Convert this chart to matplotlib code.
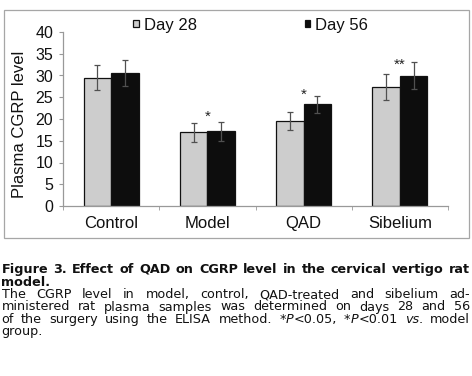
import matplotlib
matplotlib.use("Agg")
import matplotlib.pyplot as plt
import numpy as np
from matplotlib.patches import Rectangle

categories = ["Control", "Model", "QAD", "Sibelium"]
series_names = ["Day 28", "Day 56"]
day28 = [29.5, 16.9, 19.5, 27.3]
day56 = [30.6, 17.2, 23.4, 29.9]
err28 = [2.8, 2.1, 2.0, 3.0]
err56 = [2.9, 2.2, 2.0, 3.1]
star_text = ["", "*", "*", "**"]
star_y = [0, 19.6, 24.7, 31.6]
y_ticks = [0, 5, 10, 15, 20, 25, 30, 35, 40]
ylabel = "Plasma CGRP level"

W, H = 472, 376
fig = plt.figure(figsize=(W / 100, H / 100), dpi=100)
ax = fig.add_axes([63 / W, 1 - 206 / H, (448 - 63) / W, (206 - 32) / H])

FONT = "Liberation Sans"
fs = 12
x = np.arange(len(categories))
bw = 0.287
ekw = dict(ecolor="#505050", elinewidth=0.9, capsize=2.5, capthick=0.9)
ax.bar(x - bw / 2, day28, bw, color="#CDCDCD", edgecolor="#111111", linewidth=0.9,
       yerr=err28, error_kw=ekw, label=series_names[0])
ax.bar(x + bw / 2, day56, bw, color="#0D0D0D", edgecolor="#111111", linewidth=0.9,
       yerr=err56, error_kw=ekw, label=series_names[1])
for i, (s, yv) in enumerate(zip(star_text, star_y)):
    if s:
        ax.text(x[i], yv, s, ha="center", va="baseline", fontsize=11, family=FONT, color="#222222")

ax.set_xlim(-0.5, len(categories) - 0.5)
ax.set_ylim(0, 40)
ax.set_yticks(y_ticks)
ax.set_yticklabels([str(t) for t in y_ticks], fontsize=11.5, family=FONT, color="#111111")
ax.set_xticks(x)
ax.set_xticklabels(categories, fontsize=fs, family=FONT, color="#111111")
ax.set_xticks(np.arange(-0.5, len(categories)), minor=True)
ax.tick_params(axis="x", which="major", length=0, pad=7)
ax.tick_params(axis="x", which="minor", length=3, color="#999999")
ax.tick_params(axis="y", length=3, color="#999999", pad=4)
for s in ["top", "right"]:
    ax.spines[s].set_visible(False)
for s in ["left", "bottom"]:
    ax.spines[s].set_color("#999999")
    ax.spines[s].set_linewidth(0.9)
ax.set_ylabel(ylabel, fontsize=fs, family=FONT, color="#111111")
ax.yaxis.set_label_coords(-(63 - 27) / (448 - 63), 0.47)

leg = ax.legend(ncol=2, loc="center left", bbox_to_anchor=(70 / 385, 1.04), frameon=False,
                prop={"family": FONT, "size": fs}, handlelength=0.33, handleheight=0.33,
                handletextpad=0.3, columnspacing=6.5, borderaxespad=0, borderpad=0)
for t in leg.get_texts():
    t.set_color("#111111")

# chart frame
fig.patches.append(Rectangle((4 / W, 1 - 238 / H), (469 - 4) / W, (238 - 10) / H,
                             transform=fig.transFigure, fill=False, edgecolor="#A6A6A6", linewidth=0.9))

# caption (justified)
renderer = fig.canvas.get_renderer()
CF = "DejaVu Sans"
cfs = 9.2
left, right = 1.5, 470.0

def measure(text, **kw):
    t = fig.text(0, 0, text, fontsize=cfs, family=CF, **kw)
    w = t.get_window_extent(renderer).width
    t.remove()
    return w

def draw_line(words, ybase, justify):
    widths = []
    for w in words:
        widths.append(sum(measure(txt, **kw) for txt, kw in w))
    total = sum(widths)
    kw0 = words[0][0][1]
    space = measure("a a", **kw0) - measure("aa", **kw0)
    if justify and len(words) > 1:
        gap = max((right - left - total) / (len(words) - 1), 1.5)
    else:
        gap = space
    xp = left
    for w, ww in zip(words, widths):
        xx = xp
        for txt, kw in w:
            fig.text(xx / W, 1 - ybase / H, txt, fontsize=cfs, family=CF, va="baseline",
                     ha="left", color="#111111", **kw)
            xx += measure(txt, **kw)
        xp += ww + gap

B = {"weight": "bold"}
N = {}
I = {"style": "italic"}

def simple(s, kw):
    return [[(w, kw)] for w in s.split(" ")]

base0, step = 273.0, 12.5
cap_lines = [
    (simple("Figure 3. Effect of QAD on CGRP level in the cervical vertigo rat", B), True),
    (simple("model.", B), False),
    (simple("The CGRP level in model, control, QAD-treated and sibelium ad-", N), True),
    (simple("ministered rat plasma samples was determined on days 28 and 56", N), True),
    (simple("of the surgery using the ELISA method.", N)
     + [[("*", N), ("P", I), ("<0.05,", N)], [("*", N), ("P", I), ("<0.01", N)],
        [("vs", I), (".", N)], [("model", N)]], True),
    (simple("group.", N), False),
]
for k, (words, j) in enumerate(cap_lines):
    draw_line(words, base0 + k * step, j)

fig.savefig("out.png", dpi=100)
